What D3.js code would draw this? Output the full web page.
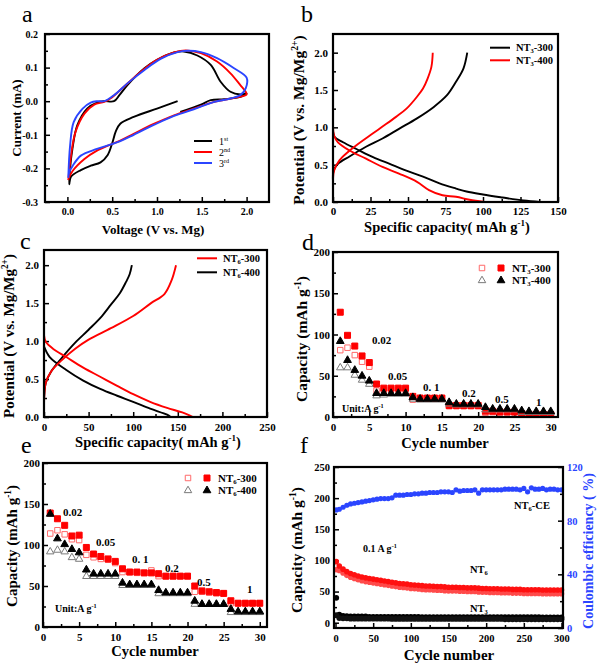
<!DOCTYPE html>
<html><head><meta charset="utf-8">
<script src="https://cdn.jsdelivr.net/npm/d3@7"></script>
<style>
body{margin:0;background:#fff}
svg{display:block}
text{font-family:"Liberation Serif","Times New Roman",serif}
</style>
</head><body>
<svg id="chart" width="599" height="665"></svg>
<script>
// ---------------- DATA ----------------
// (a) cyclic voltammetry [V, mA]
const cvCycle1 = [[1.23,0.0],[1.0,-0.022],[0.74,-0.047],[0.59,-0.067],[0.54,-0.09],[0.5,-0.125],[0.45,-0.16],[0.37,-0.182],[0.26,-0.192],[0.15,-0.205],[0.04,-0.225],[0.02,-0.247],[0.03,-0.2],[0.056,-0.142],[0.11,-0.072],[0.22,-0.022],[0.33,-0.004],[0.41,0.0],[0.52,0.0],[0.58,0.018],[0.67,0.048],[0.86,0.098],[1.0,0.123],[1.19,0.145],[1.3,0.148],[1.45,0.136],[1.6,0.108],[1.71,0.058],[1.82,0.028],[1.93,0.02],[2.0,0.023],[1.93,0.013],[1.75,0.006],[1.6,0.003],[1.49,-0.01],[1.26,-0.032]];
const cvCycle2 = [[0.01,-0.235],[0.04,-0.162],[0.09,-0.092],[0.19,-0.037],[0.3,-0.01],[0.41,-0.002],[0.48,0.008],[0.63,0.043],[0.82,0.088],[1.0,0.123],[1.19,0.145],[1.32,0.151],[1.49,0.143],[1.67,0.118],[1.82,0.083],[1.93,0.048],[1.99,0.028],[2.0,0.02],[1.86,0.01],[1.64,-0.002],[1.41,-0.022],[1.19,-0.042],[0.97,-0.067],[0.74,-0.097],[0.59,-0.117],[0.48,-0.129],[0.33,-0.147],[0.19,-0.172],[0.06,-0.207],[0.01,-0.232]];
const cvCycle3 = [[0.01,-0.228],[0.03,-0.132],[0.07,-0.062],[0.17,-0.022],[0.26,-0.004],[0.33,0.0],[0.41,0.0],[0.52,0.018],[0.67,0.053],[0.86,0.093],[1.04,0.126],[1.23,0.146],[1.34,0.15],[1.49,0.146],[1.67,0.128],[1.86,0.098],[2.0,0.07],[1.99,0.038],[1.93,0.018],[1.82,0.008],[1.64,-0.002],[1.41,-0.024],[1.19,-0.044],[0.97,-0.07],[0.74,-0.1],[0.56,-0.122],[0.48,-0.129],[0.33,-0.142],[0.15,-0.162],[0.06,-0.192],[0.02,-0.212],[0.01,-0.228]];
const aTicksX = [0,0.5,1,1.5,2], aMinorX = [0.25,0.75,1.25,1.75];
const aTicksY = [-0.3,-0.2,-0.1,0,0.1,0.2], aMinorY = [-0.25,-0.15,-0.05,0.05,0.15];

// (b) NT3 charge/discharge [mAh/g, V]
const b300Dis = [[0,0.95],[1.1,0.87],[6.7,0.8],[15.6,0.71],[26.7,0.6],[37.8,0.51],[48.9,0.42],[60,0.34],[71,0.25],[82,0.18],[89,0.14],[100,0.1],[113,0.06],[127,0.02],[138,0]];
const b300Chg = [[0,0.27],[0.4,0.42],[3.3,0.51],[11,0.61],[22,0.74],[33,0.85],[44,0.98],[56,1.12],[67,1.27],[76,1.43],[82,1.61],[87,1.79],[89.5,2.0]];
const b400Dis = [[0,1.0],[0.7,0.89],[3.3,0.8],[11,0.69],[22,0.58],[33,0.47],[44,0.38],[56,0.27],[64,0.16],[73,0.09],[82,0.07],[91,0.03],[101,0]];
const b400Chg = [[0,0.22],[0.7,0.42],[4.4,0.56],[10,0.67],[15.6,0.76],[26.7,0.92],[33,1.01],[42,1.14],[49,1.25],[56,1.41],[60,1.52],[63,1.65],[65.6,1.81],[66.5,2.0]];
const bTicksX = [0,25,50,75,100,125,150], bMinorX = [12.5,37.5,62.5,87.5,112.5,137.5];
const vTicks = [0,0.5,1,1.5,2], vMinor = [0.25,0.75,1.25,1.75];

// (c) NT6 charge/discharge
const c300Dis = [[0,1.08],[2,0.99],[10,0.9],[25,0.79],[44,0.65],[63,0.53],[82,0.41],[100,0.3],[119,0.2],[138,0.12],[155,0.06],[167,0.0]];
const c300Chg = [[0,0.15],[2,0.45],[8,0.6],[20,0.75],[35,0.9],[50,1.02],[75,1.17],[100,1.33],[120,1.5],[135,1.62],[143,1.8],[148,2.0]];
const c400Dis = [[0,0.93],[6.4,0.79],[25,0.62],[44,0.48],[63,0.37],[82,0.28],[100,0.2],[119,0.11],[138,0.03],[142,0]];
const c400Chg = [[0,0.2],[2,0.45],[8,0.6],[20,0.78],[35,0.98],[50,1.15],[65,1.33],[75,1.48],[85,1.63],[92,1.78],[96,1.88],[98.5,2.0]];
const cTicksX = [0,50,100,150,200,250], cMinorX = [25,75,125,175,225];

// (d) NT3 rate capability
const rateCycles = [1,2,3,4,5,6,7,8,9,10,11,12,13,14,15,16,17,18,19,20,21,22,23,24,25,26,27,28,29,30];
const d300Chg = [81,84,75,67,61,32,33,33,33,33,21,22,22,22,22,13,13,13,13,13,5,6,6,6,6,3,3,3,3,3];
const d300Dis = [127,99,86,74,66,40,35,35,35,35,25,23,23,23,23,14,14,14,14,14,7,7,6,6,6,4,3,3,3,3];
const d400Chg = [61,61,52,46,41,27,28,29,29,29,23,22,22,22,22,17,16,16,16,16,10,10,10,10,10,7,7,7,7,7];
const d400Dis = [93,70,58,51,45,30,30,30,30,30,25,23,23,23,23,19,17,17,17,17,13,11,11,11,11,9,8,8,8,8];
// (e) NT6 rate capability
const e300Dis = [139,132,124,111,112,97,89,86,83,80,71,67,67,66,66,65,62,62,62,62,50,44,43,42,41,32,29,29,29,29];
const e300Chg = [114,118,113,107,106,88,85,83,82,78,67,67,66,66,69,62,62,62,62,62,43,43,42,41,41,29,29,29,29,29];
const e400Dis = [139,109,102,96,92,71,66,66,66,66,55,53,53,53,53,46,43,43,43,43,33,29,29,29,29,23,20,20,20,20];
const e400Chg = [93,95,93,86,84,63,63,63,63,63,52,52,52,52,52,42,42,42,42,42,29,29,29,29,29,19,19,19,19,19];
const rateLabels = ["0.02","0.05","0. 1","0.2","0.5","1"];
const rTicksX = [0,5,10,15,20,25,30], rMinorX = [2.5,7.5,12.5,17.5,22.5,27.5];
const rTicksY = [0,50,100,150,200], rMinorY = [25,75,125,175];

// (f) long cycling at 0.1 A/g
const fCycles = [1,5,10,15,20,25,30,35,40,45,50,55,60,65,70,75,80,85,90,95,100,105,110,115,120,125,130,135,140,145,150,155,160,165,170,175,180,185,190,195,200,205,210,215,220,225,230,235,240,245,250,255,260,265,270,275,280,285,290,295,300];
const fCE = [88,88.5,90,91.5,92.5,93,93.5,94,94.5,95, 95.5,96,96.5,96.5,96.5,97,99,99,99,99.5, 99.5,100,100,100.5,100.5,101,101,101,101.5,101.5, 101.5,101,103,102,102.5,102.5,102.5,103,100.5,103, 103,103,103,103,103,103.5,103.5,103.5,103.5,103, 104,101.5,104.5,103.5,103.5,104,103,103.5,103.5,103, 103];
const fNT6Dis = [98,91,86,82,79,77,75,73.5,72,71, 70,69,68,67,66,65,64,63,62.5,62, 61,60.5,60,59.5,59,59,58.5,58,58,57.5, 57,57,57,56.5,56.5,56,56,56,55.5,55, 55,54.5,54.5,54.5,54,54,54,53.5,53.5,53.5, 53,53,53,53,53,52.5,52.5,52.5,52.5,52.5, 52.5];
const fNT6Chg = [85,84,80,76,73,71,69,67.5,66,65, 64,63,62,61,60,59,58,57,56.5,56, 55,54.5,54,53.5,53,53,52.5,52,52,51.5, 51,51,51,50.5,50.5,50,50,50,49.5,49, 49,48.5,48.5,48.5,48,48,48,47.5,47.5,47.5, 47,47,47,47,47,46.5,46.5,46.5,46.5,46.5, 46.5];
const fNT3Dis = [40,13,11,10.5,10,10,10,10,10,9.5, 9.5,9.5,9.5,9.5,9.5,9.5,9.5,9.5,9.5,9.5, 9.5,9.5,9.5,9,9,9,9,9,9,9, 9,9,9,9,9,9,9,9,9,9, 9,9,9,9,9,9,9,9,9,9, 9,9,9,9,9,8.5,8.5,8.5,8.5,8.5, 8.5];
const fNT3Chg = [12,7.5,7,7,6.5,6.5,6.5,6.5,6.5,6.5, 6.5,6.5,6.5,6.5,6.5,6,6,6,6,6, 6,6,6,6,6,6,6,6,6,6, 6,6,6,6,6,6,6,6,6,6, 6,6,6,6,6,5.5,5.5,5.5,5.5,5.5, 5.5,5.5,5.5,5.5,5.5,5.5,5.5,5.5,5.5,5.5, 5.5];
const fTicksX = [0,50,100,150,200,250,300], fMinorX = [25,75,125,175,225,275];
const fTicksY = [0,50,100,150,200,250], fMinorY = [25,75,125,175,225];
const fTicksY2 = [0,40,80,120], fMinorY2 = [20,60,100];

// ---------------- HELPERS ----------------
const svg = d3.select('#chart');
const FONT = '"Liberation Serif","Times New Roman",serif';
const RED = '#ff0000', BLUE = '#2b45ff';

function rich(g, x, y, parts, fs, o = {}) {
  const t = g.append('text').attr('x', x).attr('y', y).attr('font-size', fs)
    .attr('text-anchor', o.anchor || 'start').attr('fill', o.fill || '#000')
    .attr('font-weight', o.weight || 'bold');
  if (o.rotate) t.attr('transform', `rotate(-90,${x},${y})`);
  let shift = 0;
  parts.forEach(p => {
    const str = typeof p === 'string' ? p : p[0];
    const kind = typeof p === 'string' ? '' : p[1];
    let target = 0, size = fs;
    if (kind === 'sup') { target = -0.38 * fs; size = fs * 0.62; }
    if (kind === 'sub') { target = 0.2 * fs; size = fs * 0.62; }
    t.append('tspan').attr('dy', target - shift).attr('font-size', size).text(str);
    shift = target;
  });
  return t;
}

function makePanel(box, xd, yd) {
  const x = d3.scaleLinear().domain(xd).range([box.l, box.r]);
  const y = d3.scaleLinear().domain(yd).range([box.b, box.t]);
  return { box, x, y, g: svg.append('g') };
}
function styleAxis(sel, fs, fill) {
  sel.select('.domain').remove();
  sel.attr('font-family', FONT).attr('font-size', fs).attr('font-weight', 'bold');
  sel.selectAll('.tick line').attr('stroke', '#000').attr('stroke-width', 1.5);
  sel.selectAll('.tick text').attr('fill', fill || '#000');
}
function axes(p, o) {
  const { box, x, y, g } = p;
  const ab = g.append('g').attr('transform', `translate(0,${box.b})`)
    .call(d3.axisBottom(x).tickValues(o.xMaj).tickFormat(o.fx).tickSize(-5).tickSizeOuter(0).tickPadding(o.px));
  styleAxis(ab, o.fs);
  const abm = g.append('g').attr('transform', `translate(0,${box.b})`)
    .call(d3.axisBottom(x).tickValues(o.xMin).tickFormat('').tickSize(-3).tickSizeOuter(0));
  styleAxis(abm, o.fs);
  const al = g.append('g').attr('transform', `translate(${box.l},0)`)
    .call(d3.axisLeft(y).tickValues(o.yMaj).tickFormat(o.fy).tickSize(-5).tickSizeOuter(0).tickPadding(o.py));
  styleAxis(al, o.fs);
  const alm = g.append('g').attr('transform', `translate(${box.l},0)`)
    .call(d3.axisLeft(y).tickValues(o.yMin).tickFormat('').tickSize(-3).tickSizeOuter(0));
  styleAxis(alm, o.fs);
}
function border(p) {
  const b = p.box;
  p.g.append('rect').attr('x', b.l).attr('y', b.t).attr('width', b.r - b.l).attr('height', b.b - b.t)
    .attr('fill', 'none').attr('stroke', '#000').attr('stroke-width', 2.2);
}
function curve(p, data, color, w) {
  p.g.append('path').datum(data)
    .attr('d', d3.line().x(d => p.x(d[0])).y(d => p.y(d[1])).curve(d3.curveCatmullRom.alpha(0.5)))
    .attr('fill', 'none').attr('stroke', color).attr('stroke-width', w || 1.9).attr('stroke-linejoin', 'round');
}
function sym(g, type, cx, cy, size, fill, stroke) {
  g.append('path').attr('d', d3.symbol(type, size)()).attr('transform', `translate(${cx},${cy})`)
    .attr('fill', fill).attr('stroke', stroke).attr('stroke-width', 1);
}
function letter(t, x, y) {
  svg.append('text').attr('x', x).attr('y', y).attr('font-size', 24).attr('font-weight', 'normal').text(t);
}
const f1 = d => d.toFixed(1);
const f0 = d => String(d);
const OPENSQ = '#ff6a6a', OPENTRI = '#7a7a7a';

// ---------------- PANEL A ----------------
{
  const p = makePanel({ l: 45, r: 269, t: 34, b: 202 }, [-0.25, 2.25], [-0.3, 0.2]);
  axes(p, { xMaj: aTicksX, xMin: aMinorX, yMaj: aTicksY, yMin: aMinorY, fx: f1, fy: f1, fs: 10, px: 6, py: 7 });
  curve(p, cvCycle1, '#000');
  curve(p, cvCycle2, RED);
  curve(p, cvCycle3, BLUE);
  border(p);
  const lg = [['1', 'st', '#000'], ['2', 'nd', RED], ['3', 'rd', BLUE]];
  lg.forEach((d, i) => {
    const yy = 141 + i * 11;
    p.g.append('line').attr('x1', 194).attr('x2', 212).attr('y1', yy).attr('y2', yy).attr('stroke', d[2]).attr('stroke-width', 2);
    rich(p.g, 219, yy + 3.5, [d[0], [d[1], 'sup']], 10, { weight: 'normal' });
  });
  rich(svg, 153, 234, ['Voltage (V vs. Mg)'], 13, { anchor: 'middle' });
  rich(svg, 21, 118, ['Current (mA)'], 13, { anchor: 'middle', rotate: true });
  letter('a', 22, 22);
}

// ---------------- PANEL B ----------------
{
  const p = makePanel({ l: 333, r: 558, t: 34, b: 202 }, [0, 150], [0, 2.25]);
  axes(p, { xMaj: bTicksX, xMin: bMinorX, yMaj: vTicks, yMin: vMinor, fx: f0, fy: f1, fs: 11, px: 5, py: 5 });
  curve(p, b300Dis, '#000'); curve(p, b300Chg, '#000');
  curve(p, b400Dis, RED); curve(p, b400Chg, RED);
  border(p);
  [['-300', '#000'], ['-400', RED]].forEach((d, i) => {
    const yy = 47.7 + i * 12.6;
    p.g.append('line').attr('x1', 490).attr('x2', 510).attr('y1', yy).attr('y2', yy).attr('stroke', d[1]).attr('stroke-width', 2);
    rich(p.g, 516, yy + 3.5, ['NT', ['3', 'sub'], d[0]], 10.5);
  });
  rich(svg, 447, 232, ['Specific capacity(  mAh g', ['-1', 'sup'], ')'], 14.5, { anchor: 'middle' });
  rich(svg, 304, 120, ['Potential (V vs. Mg/Mg', ['2+', 'sup'], ')'], 15.5, { anchor: 'middle', rotate: true });
  letter('b', 301, 22);
}

// ---------------- PANEL C ----------------
{
  const p = makePanel({ l: 44, r: 267, t: 250, b: 417 }, [0, 250], [0, 2.2]);
  axes(p, { xMaj: cTicksX, xMin: cMinorX, yMaj: vTicks, yMin: vMinor, fx: f0, fy: f1, fs: 11, px: 6, py: 5 });
  curve(p, c400Dis, '#000'); curve(p, c400Chg, '#000');
  curve(p, c300Dis, RED); curve(p, c300Chg, RED);
  border(p);
  [['-300', RED], ['-400', '#000']].forEach((d, i) => {
    const yy = 258.3 + i * 14;
    p.g.append('line').attr('x1', 197).attr('x2', 217).attr('y1', yy).attr('y2', yy).attr('stroke', d[1]).attr('stroke-width', 2);
    rich(p.g, 223, yy + 3.5, ['NT', ['6', 'sub'], d[0]], 10.5);
  });
  rich(svg, 158, 447, ['Specific capacity(  mAh g', ['-1', 'sup'], ')'], 14.5, { anchor: 'middle' });
  rich(svg, 14, 336, ['Potential (V vs. Mg/Mg', ['2+', 'sup'], ')'], 15, { anchor: 'middle', rotate: true });
  letter('c', 20, 249);
}

// ---------------- RATE PANELS ----------------
function ratePanel(box, s300c, s300d, s400c, s400d, sub, legPos, labPos, unitPos) {
  const p = makePanel(box, [0, 31], [0, 200]);
  axes(p, { xMaj: rTicksX, xMin: rMinorX, yMaj: rTicksY, yMin: rMinorY, fx: f0, fy: f0, fs: 11, px: 6, py: 3 });
  rateCycles.forEach((c, i) => sym(p.g, d3.symbolSquare, p.x(c), p.y(s300c[i]), 30, 'none', OPENSQ));
  rateCycles.forEach((c, i) => sym(p.g, d3.symbolSquare, p.x(c), p.y(s300d[i]), 36, RED, RED));
  rateCycles.forEach((c, i) => sym(p.g, d3.symbolTriangle, p.x(c), p.y(s400c[i]) + 1, 24, 'none', OPENTRI));
  rateCycles.forEach((c, i) => sym(p.g, d3.symbolTriangle, p.x(c), p.y(s400d[i]) + 1, 26, '#000', '#000'));
  border(p);
  const [lx, ly] = legPos;
  sym(p.g, d3.symbolSquare, lx, ly, 30, 'none', OPENSQ);
  sym(p.g, d3.symbolSquare, lx + 19, ly, 36, RED, RED);
  rich(p.g, lx + 30, ly + 4, ['NT', [sub, 'sub'], '-300'], 11);
  sym(p.g, d3.symbolTriangle, lx, ly + 12.5, 24, 'none', OPENTRI);
  sym(p.g, d3.symbolTriangle, lx + 19, ly + 12.5, 26, '#000', '#000');
  rich(p.g, lx + 30, ly + 16, ['NT', [sub, 'sub'], '-400'], 11);
  rateLabels.forEach((t, i) => rich(p.g, labPos[i][0], labPos[i][1], [t], 11));
  rich(p.g, unitPos[0], unitPos[1], ['Unit:A  g', ['-1', 'sup']], 10);
  return p;
}
{
  ratePanel({ l: 333, r: 558, t: 252, b: 417 }, d300Chg, d300Dis, d400Chg, d400Dis, '3',
    [482, 268], [[372, 344], [388, 380], [423, 391], [462, 397], [495, 403], [536, 406]], [342, 412]);
  rich(svg, 445, 448, ['Cycle number'], 14.5, { anchor: 'middle' });
  rich(svg, 307, 339, ['Capacity (mAh g', ['-1', 'sup'], ')'], 15.5, { anchor: 'middle', rotate: true });
  letter('d', 302, 250);
}
{
  ratePanel({ l: 43, r: 267, t: 463, b: 627 }, e300Chg, e300Dis, e400Chg, e400Dis, '6',
    [188, 478], [[63, 516], [96, 546], [132, 563], [165, 572], [197, 586], [247, 593]], [55, 612]);
  rich(svg, 155, 656, ['Cycle number'], 14.5, { anchor: 'middle' });
  rich(svg, 17, 546, ['Capacity (mAh g', ['-1', 'sup'], ')'], 15, { anchor: 'middle', rotate: true });
  letter('e', 21, 453);
}

// ---------------- PANEL F ----------------
{
  const p = makePanel({ l: 334, r: 563, t: 467, b: 628 }, [-2, 302], [-8.5, 250]);
  const y2 = d3.scaleLinear().domain([0, 120]).range([628, 467]);
  axes(p, { xMaj: fTicksX, xMin: fMinorX, yMaj: fTicksY, yMin: fMinorY, fx: f0, fy: f0, fs: 10.5, px: 7, py: 4 });
  const ar = p.g.append('g').attr('transform', `translate(${p.box.r},0)`)
    .call(d3.axisRight(y2).tickValues(fTicksY2).tickFormat(f0).tickSize(-5).tickSizeOuter(0).tickPadding(4));
  styleAxis(ar, 10.5, BLUE);
  const arm = p.g.append('g').attr('transform', `translate(${p.box.r},0)`)
    .call(d3.axisRight(y2).tickValues(fMinorY2).tickFormat('').tickSize(-3).tickSizeOuter(0));
  styleAxis(arm, 10.5);
  const dots = (arr, sc, r, col) => fCycles.forEach((c, i) =>
    p.g.append('circle').attr('cx', p.x(c)).attr('cy', sc(arr[i])).attr('r', r).attr('fill', col));
  dots(fNT3Dis, p.y, 2.9, '#000');
  dots(fNT3Chg, p.y, 2.9, '#111');
  dots(fNT6Chg, p.y, 2.8, '#ff4a4a');
  dots(fNT6Dis, p.y, 2.8, '#ff1010');
  dots(fCE, y2, 2.6, BLUE);
  border(p);
  rich(p.g, 514, 509, ['NT', ['6', 'sub'], '-CE'], 10.5);
  rich(p.g, 363, 552, ['0.1 A g', ['-1', 'sup']], 10);
  rich(p.g, 470, 573, ['NT', ['6', 'sub']], 10.5);
  rich(p.g, 470, 612, ['NT', ['3', 'sub']], 10.5);
  rich(svg, 449, 660, ['Cycle number'], 15, { anchor: 'middle' });
  rich(svg, 302, 550, ['Capacity (mAh g', ['-1', 'sup'], ')'], 15.5, { anchor: 'middle', rotate: true });
  rich(svg, 593, 551, ['Coulombic efficiency ( %)'], 14, { anchor: 'middle', rotate: true, fill: BLUE });
  letter('f', 300, 453);
}
</script>
</body></html>
